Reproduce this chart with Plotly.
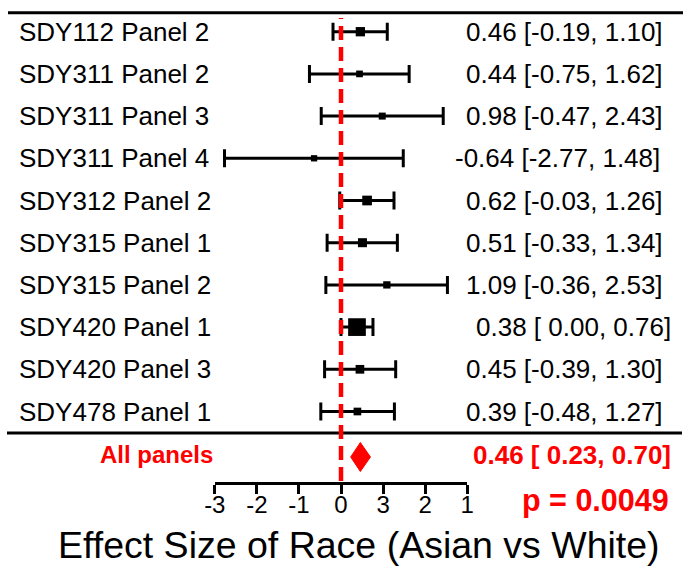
import plotly.graph_objects as go

# ---------------- data ----------------
study_labels = ["SDY112 Panel 2", "SDY311 Panel 2", "SDY311 Panel 3", "SDY311 Panel 4",
                "SDY312 Panel 2", "SDY315 Panel 1", "SDY315 Panel 2", "SDY420 Panel 1",
                "SDY420 Panel 3", "SDY478 Panel 1"]
effect = [0.46, 0.44, 0.98, -0.64, 0.62, 0.51, 1.09, 0.38, 0.45, 0.39]
ci_low = [-0.19, -0.75, -0.47, -2.77, -0.03, -0.33, -0.36, 0.00, -0.39, -0.48]
ci_high = [1.10, 1.62, 2.43, 1.48, 1.26, 1.34, 2.53, 0.76, 1.30, 1.27]
marker_px = [9.3, 6.7, 7.0, 6.3, 9.7, 9.0, 7.3, 17.7, 8.7, 7.7]   # weight-scaled box sizes

summary_label = "All panels"
summary_effect = 0.46
summary_low = 0.23
summary_high = 0.70
p_text = "p = 0.0049"

tick_vals = [-3, -2, -1, 0, 1, 2, 3]
tick_text = ["-3", "-2", "-1", "0", "3", "2", "1"]
x_title = "Effect Size of Race (Asian vs White)"

# ---------------- layout geometry (pixels) ----------------
W, H = 686, 571
FONT = "Liberation Sans, Arial, Helvetica, sans-serif"
RED = "#ff0000"
row0_px, row_step = 31.7, 42.2
axis_px = 482
x0_px, x1_px = 214.8, 467.2

y_top = -row0_px / row_step
y_bot = (axis_px - row0_px) / row_step
y_dom0 = (H - axis_px) / H
summary_y = (457 - row0_px) / row_step
rows = list(range(len(study_labels)))


def py(px):
    return (H - px) / H


def px_x(px):
    return px / W


def fmt(e, lo, hi):
    return f"{e:.2f} [{lo:5.2f}, {hi:.2f}]"


fig = go.Figure()

fig.add_trace(go.Scatter(
    x=effect, y=rows, mode="markers",
    marker=dict(symbol="square", size=marker_px, color="black", opacity=1, line=dict(width=0)),
    error_x=dict(type="data", symmetric=False,
                 array=[h - e for h, e in zip(ci_high, effect)],
                 arrayminus=[e - l for e, l in zip(effect, ci_low)],
                 color="black", thickness=3, width=9),
    cliponaxis=False, hoverinfo="skip", showlegend=False,
))

half_h = 14.5 / row_step
fig.add_trace(go.Scatter(
    x=[summary_low, summary_effect, summary_high, summary_effect, summary_low],
    y=[summary_y, summary_y - half_h, summary_y, summary_y + half_h, summary_y],
    mode="lines", fill="toself", fillcolor=RED, line=dict(color=RED, width=1),
    cliponaxis=False, hoverinfo="skip", showlegend=False,
))

shapes = [
    dict(type="line", xref="paper", yref="paper", x0=px_x(8), x1=px_x(683),
         y0=py(12.7), y1=py(12.7), line=dict(color="black", width=3)),
    dict(type="line", xref="paper", yref="paper", x0=px_x(7), x1=px_x(682),
         y0=py(433), y1=py(433), line=dict(color="black", width=3)),
    dict(type="line", xref="x", yref="paper", x0=0, x1=0, y0=py(481), y1=py(18),
         line=dict(color=RED, width=4.5, dash="14px,7px")),
]

annotations = []
for i, lab in enumerate(study_labels):
    annotations.append(dict(text=lab, xref="paper", yref="y", x=px_x(17), y=i,
                            xanchor="left", yanchor="middle", showarrow=False,
                            font=dict(family=FONT, size=26, color="black")))
    right = 671 - 8 * (ci_low[i] < 0) - 3 * (effect[i] < 0)
    annotations.append(dict(text=fmt(effect[i], ci_low[i], ci_high[i]), xref="paper", yref="y",
                            x=px_x(right + 2), y=i, xanchor="right", yanchor="middle",
                            showarrow=False, font=dict(family=FONT, size=26, color="black")))

annotations.append(dict(text=f"<b>{summary_label}</b>", xref="paper", yref="y", x=px_x(215),
                        y=summary_y - 0.05, xanchor="right", yanchor="middle", showarrow=False,
                        font=dict(family=FONT, size=24, color=RED)))
annotations.append(dict(text=f"<b>{fmt(summary_effect, summary_low, summary_high)}</b>",
                        xref="paper", yref="y", x=px_x(673), y=summary_y - 0.05,
                        xanchor="right", yanchor="middle", showarrow=False,
                        font=dict(family=FONT, size=26, color=RED)))
annotations.append(dict(text=f"<b>{p_text}</b>", xref="paper", yref="paper", x=px_x(671),
                        y=py(500), xanchor="right", yanchor="middle", showarrow=False,
                        font=dict(family=FONT, size=30.5, color=RED)))
annotations.append(dict(text=x_title, xref="paper", yref="paper", x=px_x(358.5),
                        y=py(545), xanchor="center", yanchor="middle", showarrow=False,
                        font=dict(family=FONT, size=37.5, color="black")))

fig.update_layout(
    width=W, height=H, autosize=False,
    margin=dict(l=0, r=0, t=0, b=0, pad=0, autoexpand=False),
    paper_bgcolor="white", plot_bgcolor="white",
    shapes=shapes, annotations=annotations, showlegend=False,
    xaxis=dict(domain=[px_x(x0_px), px_x(x1_px)], range=[-3, 3], tickvals=tick_vals,
               ticktext=tick_text, ticks="outside", ticklen=9, tickwidth=3, tickcolor="black",
               ticklabelstandoff=-10,
               showline=True, linewidth=3, linecolor="black", showgrid=False, zeroline=False,
               automargin=False,
               tickfont=dict(family=FONT, size=24, color="black"), fixedrange=True),
    yaxis=dict(domain=[y_dom0, 1], range=[y_bot, y_top], visible=False, showgrid=False,
               zeroline=False, fixedrange=True, automargin=False),
)

fig.write_html("out.html", config={"responsive": False, "displayModeBar": False},
               post_script="document.body.style.margin='0px';document.body.style.overflow='hidden';")
